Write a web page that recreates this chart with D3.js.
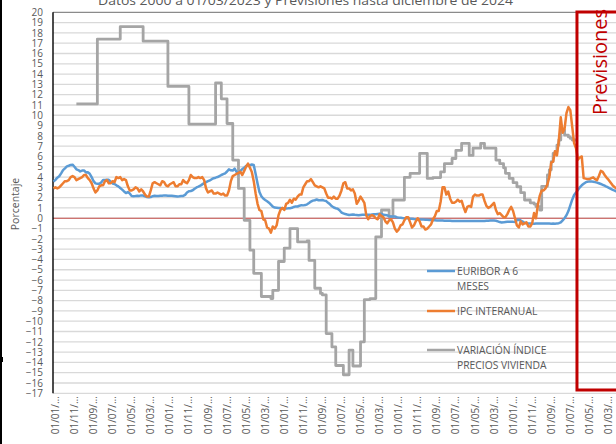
<!DOCTYPE html>
<html><head><meta charset="utf-8">
<script src="https://cdn.jsdelivr.net/npm/d3@7"></script>
<style>body{margin:0;background:#fff;} svg{display:block;font-family:"Open Sans",sans-serif;}</style>
</head><body>
<svg id="c" width="616" height="444"></svg>
<script>
const title = "Datos 2000 a 01/03/2023 y Previsiones hasta diciembre de 2024";
const yTitle = "Porcentaje";
const forecastLabel = "Previsiones";
const startYear = 2000;
const nMonths = 300;            // Jan 2000 .. Dec 2024
const forecastStartMonth = 275; // Dec 2022 category (box edge)

// Euribor a 6 meses, monthly, Jan 2000 .. Dec 2024
const euribor = [
 3.56,3.73,3.94,4.08,4.36,4.68,4.85,5.04,5.10,5.18,5.20,5.00,
 4.75,4.68,4.55,4.63,4.64,4.45,4.47,4.32,3.99,3.60,3.39,3.34,
 3.34,3.48,3.72,3.71,3.73,3.73,3.55,3.38,3.32,3.20,3.10,2.94,
 2.78,2.60,2.45,2.54,2.41,2.15,2.14,2.15,2.18,2.17,2.22,2.20,
 2.12,2.07,2.03,2.06,2.14,2.19,2.17,2.17,2.19,2.19,2.22,2.21,
 2.19,2.18,2.19,2.17,2.14,2.11,2.13,2.16,2.17,2.27,2.50,2.63,
 2.65,2.72,2.87,2.99,3.07,3.16,3.29,3.41,3.51,3.60,3.68,3.79,
 3.89,3.94,4.00,4.10,4.20,4.28,4.36,4.54,4.75,4.66,4.63,4.82,
 4.50,4.36,4.59,4.78,4.90,5.09,5.15,5.16,5.22,5.18,4.29,3.37,
 2.54,2.14,1.91,1.77,1.65,1.51,1.32,1.12,1.04,1.02,0.99,1.00,
 0.96,0.96,0.95,0.96,0.98,1.01,1.10,1.15,1.14,1.22,1.27,1.25,
 1.28,1.35,1.48,1.62,1.71,1.75,1.82,1.75,1.74,1.78,1.71,1.67,
 1.50,1.35,1.16,1.04,0.97,0.93,0.78,0.56,0.48,0.41,0.36,0.32,
 0.34,0.36,0.33,0.32,0.30,0.32,0.34,0.34,0.34,0.34,0.33,0.37,
 0.40,0.39,0.41,0.43,0.42,0.33,0.31,0.29,0.20,0.18,0.18,0.17,
 0.10,0.06,0.04,0.02,0.01,0.01,0.00,-0.04,-0.04,-0.07,-0.09,-0.13,
 -0.13,-0.13,-0.13,-0.14,-0.14,-0.16,-0.18,-0.19,-0.20,-0.21,-0.21,-0.22,
 -0.23,-0.24,-0.24,-0.25,-0.25,-0.27,-0.27,-0.27,-0.27,-0.27,-0.27,-0.27,
 -0.27,-0.27,-0.27,-0.27,-0.27,-0.27,-0.27,-0.27,-0.27,-0.26,-0.26,-0.24,
 -0.24,-0.23,-0.23,-0.23,-0.24,-0.30,-0.37,-0.41,-0.40,-0.36,-0.34,-0.34,
 -0.33,-0.35,-0.36,-0.19,-0.14,-0.22,-0.32,-0.44,-0.47,-0.50,-0.51,-0.52,
 -0.53,-0.52,-0.51,-0.52,-0.51,-0.51,-0.51,-0.52,-0.52,-0.53,-0.52,-0.54,
 -0.50,-0.48,-0.40,-0.20,0.00,0.30,0.70,1.25,1.80,2.25,2.50,2.75,
 3.00,3.20,3.35,3.48,3.55,3.58,3.58,3.55,3.51,3.46,3.40,3.33,
 3.25,3.16,3.06,2.97,2.88,2.79,2.70,2.62,2.55,2.48,2.42,2.36
];

// IPC interanual, monthly, Jan 2000 .. Dec 2024
const ipc = [
 2.9,3.0,2.9,3.0,3.2,3.4,3.6,3.6,3.7,4.0,4.1,4.0,
 3.7,3.8,3.9,4.0,4.2,4.2,3.9,3.7,3.4,2.9,2.5,2.7,
 3.1,3.2,3.2,3.6,3.7,3.4,3.4,3.6,3.5,4.0,3.9,4.0,
 3.7,3.8,3.7,3.1,2.7,2.7,2.8,3.0,2.9,2.6,2.8,2.6,
 2.3,2.1,2.1,2.7,3.4,3.5,3.4,3.3,3.2,3.6,3.5,3.2,
 3.1,3.3,3.4,3.5,3.1,3.1,3.3,3.3,3.7,3.5,3.4,3.7,
 4.2,4.0,3.9,3.9,4.0,3.9,4.0,3.7,2.9,2.5,2.6,2.7,
 2.4,2.4,2.5,2.4,2.3,2.4,2.2,2.2,2.7,3.6,4.1,4.2,
 4.3,4.4,4.5,4.2,4.6,5.0,5.3,4.9,4.5,3.6,2.4,1.4,
 0.8,0.7,-0.1,-0.2,-0.9,-1.0,-1.4,-0.8,-1.0,-0.7,0.3,0.8,
 1.0,0.8,1.4,1.5,1.8,1.5,1.9,1.8,2.1,2.3,2.3,3.0,
 3.3,3.6,3.6,3.8,3.5,3.2,3.1,3.0,3.1,3.0,2.9,2.4,
 2.0,2.0,1.9,2.1,1.9,1.9,2.2,2.7,3.4,3.5,2.9,2.9,
 2.7,2.8,2.4,1.4,1.7,2.1,1.8,1.5,0.3,-0.1,0.2,0.3,
 0.2,0.0,-0.1,0.4,0.2,0.1,-0.3,-0.5,-0.2,-0.1,-0.4,-1.0,
 -1.3,-1.1,-0.7,-0.6,-0.2,0.1,0.1,-0.4,-0.9,-0.7,-0.3,0.0,
 -0.3,-0.8,-0.8,-1.1,-1.0,-0.8,-0.6,-0.1,0.2,0.7,0.7,1.6,
 3.0,3.0,2.3,2.6,1.9,1.5,1.5,1.6,1.8,1.6,1.7,1.1,
 0.6,1.1,1.2,1.1,2.1,2.3,2.2,2.2,2.3,2.3,1.7,1.2,
 1.0,1.1,1.3,1.5,0.8,0.4,0.5,0.3,0.1,0.1,0.4,0.8,
 1.1,0.7,0.0,-0.7,-0.9,-0.3,-0.6,-0.5,-0.4,-0.8,-0.8,-0.5,
 0.5,0.0,1.3,2.2,2.7,2.7,2.9,3.3,4.0,5.4,5.5,6.5,
 6.1,7.6,9.8,8.3,8.7,10.2,10.8,10.5,8.9,7.3,6.8,5.7,
 5.9,6.0,3.9,3.85,3.8,3.8,3.9,3.97,3.8,3.7,4.1,4.6,
 4.5,4.2,3.95,3.75,3.5,3.25,3.05,2.9,2.8,2.7,2.6,2.5
];

// Variación índice precios vivienda: month index (0 = Jan 2000) where each value starts
const viviendaMonths = [12,23,35,47,60,71,85,88,91,94,97,100,103,105,109,114,115,118,121,124,128,133,134,137,140,141,143,146,148,152,155,157,161,163,166,169,172,176,178,184,187,192,196,199,203,205,209,211,214,218,220,224,226,232,234,236,237,239,241,243,245,247,250,252,253,255,256,259,260,261,262,263,264,265,266,267,268,270,271,272,274];
const viviendaVals   = [11.1,17.4,18.6,17.2,12.8,9.15,13.15,11.6,9.2,5.65,2.9,-0.2,-3.1,-5.35,-7.6,-7.8,-7.0,-4.2,-2.9,-1.0,-2.3,-2.2,-4.1,-6.8,-7.3,-7.45,-11.2,-12.5,-14.3,-15.2,-12.8,-14.35,-12.0,-7.9,-7.8,-1.8,0.8,0.15,1.77,3.97,4.36,6.3,3.87,3.95,4.5,5.3,5.8,6.6,7.27,6.1,6.8,7.27,6.8,5.65,5.3,4.9,4.36,3.87,3.45,3.06,2.48,1.77,1.5,1.38,1.12,0.8,3.1,4.2,4.7,5.5,6.3,6.5,7.1,7.6,8.5,8.56,8.07,7.9,7.75,7.6,7.6];

const yTicks = [-17,-16,-15,-14,-13,-12,-11,-10,-9,-8,-7,-6,-5,-4,-3,-2,-1,0,1,2,3,4,5,6,7,8,9,10,11,12,13,14,15,16,17,18,19,20];
const xTickEvery = 10;
const legendLabels = [["EURIBOR A 6","MESES"],["IPC INTERANUAL"],["VARIACIÓN ÍNDICE","PRECIOS VIVIENDA"]];
const colors = ["#5b9bd5","#ed7d31","#a5a5a5"];

const svg = d3.select("#c");
const X0 = 53.5, STEP = 1.907;
const x = d3.scaleLinear().domain([0, nMonths-1]).range([X0, X0 + STEP*(nMonths-1)]);
const y = d3.scaleLinear().domain([-17, 20]).range([393.3, 12.3]);
const plotL = 53, plotR = x(nMonths-1) + STEP/2;
const txt = "#595959";

// left frame line
svg.append("line").attr("x1",1).attr("x2",1).attr("y1",0).attr("y2",444).attr("stroke","#000").attr("stroke-width",2);
svg.append("rect").attr("x",0).attr("y",357).attr("width",3).attr("height",5).attr("fill","#000");

// title (cut at top)
svg.append("text").attr("x",98).attr("y",4.5).attr("font-size",13).attr("fill",txt)
  .attr("textLength",415).attr("lengthAdjust","spacingAndGlyphs").text(title);

// gridlines
svg.append("g").selectAll("line").data(yTicks).join("line")
  .attr("x1",plotL).attr("x2",plotR).attr("y1",d=>y(d)).attr("y2",d=>y(d))
  .attr("stroke",d=>d===20?"#6e6e6e":"#d9d9d9").attr("stroke-width",d=>d===20?1:1.3);

// y axis labels
const yAxis = d3.axisLeft(y).tickValues(yTicks).tickSize(0).tickPadding(0).tickFormat(d3.format("d"));
const gy = svg.append("g").attr("transform","translate(43,0)").call(yAxis);
gy.select(".domain").remove();
gy.selectAll("text").attr("font-family","Open Sans").attr("font-size",10).attr("fill",txt);

// x axis labels
const xt = d3.range(0, nMonths, xTickEvery).filter(m => x(m) < 616);
const fmtM = m => { const d = new Date(startYear, m, 1); return "01/" + d3.timeFormat("%m")(d) + "/…"; };
const xAxis = d3.axisBottom(x).tickValues(xt).tickSize(0).tickFormat(fmtM);
const gx = svg.append("g").attr("transform","translate(0,393.3)").call(xAxis);
gx.select(".domain").remove();
gx.selectAll("text").attr("font-family","Open Sans").attr("font-size",10).attr("fill",txt)
  .attr("text-anchor","end").attr("transform","translate(1.5,3) rotate(-90)").attr("x",0).attr("y",0).attr("dy","0.35em");

// y title
svg.append("text").attr("transform","translate(18.5,204) rotate(-90)").attr("text-anchor","middle")
  .attr("font-size",10.5).attr("fill",txt).text(yTitle);

// zero line
svg.append("line").attr("x1",plotL).attr("x2",plotR).attr("y1",y(0)).attr("y2",y(0))
  .attr("stroke","#c9504d").attr("stroke-width",1);

// left axis line
svg.append("line").attr("x1",plotL).attr("x2",plotL).attr("y1",y(20)).attr("y2",y(-17))
  .attr("stroke","#000").attr("stroke-width",1.4);

// series
const lineM = d3.line().x((d,i)=>x(i)).y(d=>y(d)).curve(d3.curveLinear);
const viv = viviendaMonths.map((m,i)=>[m, viviendaVals[i]]);
svg.append("path").attr("d", d3.line().x(d=>x(d[0])).y(d=>y(d[1])).curve(d3.curveStepAfter)(viv))
  .attr("fill","none").attr("stroke",colors[2]).attr("stroke-width",2.8).attr("stroke-linejoin","round");
svg.append("path").attr("d", lineM(euribor)).attr("fill","none").attr("stroke",colors[0])
  .attr("stroke-width",2.5).attr("stroke-linejoin","round");
svg.append("path").attr("d", lineM(ipc)).attr("fill","none").attr("stroke",colors[1])
  .attr("stroke-width",2.5).attr("stroke-linejoin","round");

// forecast box
const bx = x(forecastStartMonth) - STEP/2;
svg.append("rect").attr("x",bx).attr("y",12).attr("width",80).attr("height",378)
  .attr("fill","none").attr("stroke","#c00000").attr("stroke-width",3);
svg.append("text").attr("transform","translate(607,62) rotate(-90)").attr("text-anchor","middle")
  .attr("font-size",20).attr("fill","#c00000").text(forecastLabel);

// legend
const legY = [271, 311, 350];
legendLabels.forEach((lab,i)=>{
  svg.append("line").attr("x1",427).attr("x2",455).attr("y1",legY[i]).attr("y2",legY[i])
    .attr("stroke",colors[i]).attr("stroke-width",2.5);
  const t = svg.append("text").attr("x",457).attr("y",legY[i])
    .attr("font-size",10.3).attr("fill",txt);
  lab.forEach((s,j)=> t.append("tspan").attr("x",457).attr("dy", j===0?"0.35em":"15px").text(s));
});
</script>
</body></html>
